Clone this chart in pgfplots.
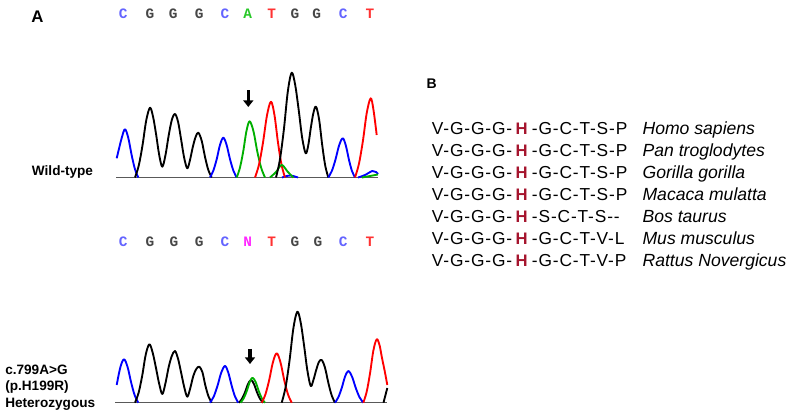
\documentclass[border=0pt]{standalone}
\usepackage{fontspec}
\setmainfont{Liberation Sans}
\newfontfamily\seqfont{Liberation Mono}
\newfontfamily\seqB{Liberation Sans}[LetterSpace=5]
\usepackage{pgfplots}
\pgfplotsset{compat=1.18}
\usetikzlibrary{arrows.meta}
\definecolor{tblue}{RGB}{0,0,255}
\definecolor{tgreen}{RGB}{0,175,0}
\definecolor{tred}{RGB}{255,0,0}
\definecolor{hred}{RGB}{165,20,45}
\definecolor{lc}{RGB}{100,100,255}
\definecolor{lg}{RGB}{70,70,70}
\definecolor{la}{RGB}{40,200,40}
\definecolor{lt}{RGB}{255,50,50}
\definecolor{ln}{RGB}{255,40,255}
\begin{document}
\begin{tikzpicture}
\begin{axis}[width=600pt,height=315pt,scale only axis,
  xmin=0,xmax=800,ymin=0,ymax=420,y dir=reverse,hide axis,clip=false,
  every axis plot/.append style={line width=1.4pt,no marks,line join=round}]
\path (axis cs:0,0) (axis cs:800,420);
% baselines
\addplot[black!65,line width=0.8pt,sharp plot] coordinates {(116,177.5)(378,177.5)};
\addplot[black!65,line width=0.8pt,sharp plot] coordinates {(115,402.7)(387,402.7)};
% ---------- wild-type trace ----------
\addplot[tblue,smooth,tension=0.55] coordinates {(282,177.5)(290,175.5)(298,177.5)};
\addplot[tblue,smooth,tension=0.55] coordinates {(358,177.5)(365,175)(372.3,171)(376,172)(378,174)};
\addplot[tgreen,smooth,tension=0.55] coordinates {(362,177.5)(370,176)(378,174.5)};
\addplot[tblue,smooth,tension=0.55] coordinates {(116.7,158.3)(121.7,138)(125,129.3)(128.3,138)(131.7,155.3)(135,169.3)(138.3,177.5)};
\addplot[black,smooth,tension=0.55] coordinates {(135,177.5)(138.75,165.6)(142.5,145.4)(146.25,120.3)(150,107.7)(153.1,117)(156.2,135)(159.2,155)(162.3,166.7)(165.5,155)(168.6,136)(171.8,120)(175,114)(178.1,122)(181.2,140)(184.2,158)(187.3,168.3)(190,160)(192.8,147)(195.6,137)(198.3,132.7)(201.7,140.8)(205,156.9)(208.3,169.9)(211.7,177.5)};
\addplot[tblue,smooth,tension=0.55] coordinates {(210,177.5)(213.3,170.7)(216.7,159.2)(220,144.9)(223.3,137.7)(226.6,144.9)(230,159.2)(233.4,170.7)(236.7,177.5)};
\addplot[tgreen,smooth,tension=0.55] coordinates {(236.7,177.5)(239.9,167.9)(243.2,151.6)(246.4,131.4)(249.6,121.3)(253.5,131.4)(257.3,151.6)(261.2,167.9)(265,177.5)};
\addplot[tred,smooth,tension=0.55] coordinates {(255,177.5)(259,164.6)(263,142.6)(267,115.3)(271,101.7)(274.5,115.3)(278,142.6)(281.5,164.6)(285,177.5)};
\addplot[tgreen,smooth,tension=0.55] coordinates {(270,177.5)(276,172)(281.7,165)(287.5,171.5)(293.3,177.5)};
\addplot[black,smooth,tension=0.55] coordinates {(276,177.5)(279.9,159.7)(283.9,129.3)(287.8,91.6)(291.7,72.7)(295.2,85)(298.7,110)(302.2,138)(305.7,153.3)(308.3,145)(310.8,128)(313.4,113)(316,106.7)(319.1,119.4)(322.2,144.9)(325.2,165.5)(328.3,177.5)};
\addplot[tblue,smooth,tension=0.55] coordinates {(328.3,177.5)(331.9,170.8)(335.5,159.5)(339.1,145.4)(342.7,138.3)(345.8,145.4)(348.9,159.5)(351.9,170.8)(355,177.5)};
\addplot[tred,smooth,tension=0.55] coordinates {(355,177.5)(358.9,164)(362.9,141)(366.8,112.6)(370.7,98.3)(373.5,110)(376.7,135)};
% ---------- heterozygous trace ----------
\addplot[tblue,smooth,tension=0.55] coordinates {(116.7,385)(120.4,367.1)(124,359.3)(127.6,367.1)(131.2,382.7)(134.7,395.3)(138.3,402.7)};
\addplot[black,smooth,tension=0.55] coordinates {(135,402.7)(138.6,392.8)(142.2,375.8)(145.7,354.8)(149.3,344.3)(152.5,352)(155.8,367)(159,383)(162.3,394)(165.5,383)(168.7,367)(171.8,356)(175,351)(178.1,359)(181.2,373)(184.2,387)(187.3,396.7)(190.3,388)(193.3,376)(196.3,369)(199.3,366.7)(202.4,372.2)(205.5,386.1)(208.6,396.6)(211.7,402.7)};
\addplot[tblue,smooth,tension=0.55] coordinates {(210,402.7)(213.75,396.5)(217.5,385.8)(221.25,372.6)(225,366)(228.3,372.6)(231.7,385.8)(235,396.5)(238.3,402.7)};
\addplot[black,smooth,tension=0.55] coordinates {(239,402.7)(242,398.8)(245,392.3)(248,384.1)(251,380)(254,384.1)(257,392.3)(260,398.8)(263,402.7)};
\addplot[tgreen,smooth,tension=0.55] coordinates {(240.5,402.7)(243.6,398.5)(246.7,391.2)(249.7,382.2)(252.5,377.7)(255.7,382.2)(258.8,391.2)(261.9,398.5)(265,402.7)};
\addplot[tred,smooth,tension=0.55] coordinates {(261.7,402.7)(265.45,394.3)(269.2,380)(272.95,362.2)(276.7,353.3)(280.45,362.2)(284.2,380)(287.95,394.3)(291.7,402.7)};
\addplot[black,smooth,tension=0.55] coordinates {(281.7,402.7)(285.6,387.2)(289.5,360.8)(293.4,328.1)(297.3,311.7)(300.6,322)(304,345)(307.3,370)(310.7,386)(313.4,380)(316.2,370)(318.9,362)(321.7,360)(325,367.7)(328.4,383.1)(331.7,395.4)(335,402.7)};
\addplot[tblue,smooth,tension=0.55] coordinates {(335,402.7)(338.3,397.3)(341.7,388.1)(345,376.7)(348.3,371)(352.05,376.7)(355.8,388.1)(359.55,397.3)(363.3,402.7)};
\addplot[tred,smooth,tension=0.55] coordinates {(363.3,402.7)(366.65,391.9)(370,373.5)(373.35,350.7)(376.7,339.3)(379.5,345)(382,358)(384.7,371)(387.3,385)};
\addplot[black,sharp plot] coordinates {(383.5,402.7)(387.3,388)};
% arrows
\draw[line width=2.6pt,-{Triangle[width=7.5pt,length=5pt]}] (axis cs:248.3,90.5) -- (axis cs:248.3,107);
\draw[line width=2.6pt,-{Triangle[width=7.5pt,length=5pt]}] (axis cs:250,349) -- (axis cs:250,364);
% base calls
\tikzset{bc/.style={font=\seqfont\bfseries\fontsize{10.8}{11}\selectfont,inner sep=0pt}}
\node[bc,lc] at (axis cs:123.3,13.7) {C};
\node[bc,lg] at (axis cs:150,13.7) {G};
\node[bc,lg] at (axis cs:173.3,13.7) {G};
\node[bc,lg] at (axis cs:199.3,13.7) {G};
\node[bc,lc] at (axis cs:225,13.7) {C};
\node[bc,la] at (axis cs:247.7,13.7) {A};
\node[bc,lt] at (axis cs:271.7,13.7) {T};
\node[bc,lg] at (axis cs:295,13.7) {G};
\node[bc,lg] at (axis cs:316.7,13.7) {G};
\node[bc,lc] at (axis cs:343.3,13.7) {C};
\node[bc,lt] at (axis cs:370,13.7) {T};
\node[bc,lc] at (axis cs:123.3,241.3) {C};
\node[bc,lg] at (axis cs:150,241.3) {G};
\node[bc,lg] at (axis cs:174,241.3) {G};
\node[bc,lg] at (axis cs:199.3,241.3) {G};
\node[bc,lc] at (axis cs:225,241.3) {C};
\node[bc,ln] at (axis cs:247.7,241.3) {N};
\node[bc,lt] at (axis cs:271.7,241.3) {T};
\node[bc,lg] at (axis cs:295,241.3) {G};
\node[bc,lg] at (axis cs:318,241.3) {G};
\node[bc,lc] at (axis cs:343.3,241.3) {C};
\node[bc,lt] at (axis cs:370,241.3) {T};
% panel labels
\node[font=\bfseries\fontsize{12.6}{14}\selectfont,inner sep=0pt] at (axis cs:37.5,16.3) {A};
\node[font=\bfseries\fontsize{10.5}{12}\selectfont,inner sep=0pt] at (axis cs:431.7,83.3) {B};
\tikzset{lab/.style={font=\bfseries\fontsize{10.2}{12}\selectfont,inner sep=0pt,anchor=base west}}
\node[lab] at (axis cs:31.7,176) {Wild-type};
\node[lab] at (axis cs:5,374) {c.799A>G};
\node[lab] at (axis cs:5,390.5) {(p.H199R)};
\node[lab] at (axis cs:5,407) {Heterozygous};
% alignment
\tikzset{sq/.style={font=\seqB\fontsize{13}{15}\selectfont,inner sep=0pt,anchor=base west},
  hh/.style={font=\bfseries\fontsize{12.5}{15}\selectfont,inner sep=0pt,anchor=base,text=hred},
  sp/.style={font=\itshape\fontsize{13.2}{15}\selectfont,inner sep=0pt,anchor=base west}}
\node[sq] at (axis cs:431.7,135) {V-G-G-G-};
\node[hh] at (axis cs:521.7,135) {H};
\node[sq] at (axis cs:531.7,135) {-G-C-T-S-P};
\node[sp] at (axis cs:642.3,135) {Homo sapiens};
\node[sq] at (axis cs:431.7,156.9) {V-G-G-G-};
\node[hh] at (axis cs:521.7,156.9) {H};
\node[sq] at (axis cs:531.7,156.9) {-G-C-T-S-P};
\node[sp] at (axis cs:642.3,156.9) {Pan troglodytes};
\node[sq] at (axis cs:431.7,178.8) {V-G-G-G-};
\node[hh] at (axis cs:521.7,178.8) {H};
\node[sq] at (axis cs:531.7,178.8) {-G-C-T-S-P};
\node[sp] at (axis cs:642.3,178.8) {Gorilla gorilla};
\node[sq] at (axis cs:431.7,200.7) {V-G-G-G-};
\node[hh] at (axis cs:521.7,200.7) {H};
\node[sq] at (axis cs:531.7,200.7) {-G-C-T-S-P};
\node[sp] at (axis cs:642.3,200.7) {Macaca mulatta};
\node[sq] at (axis cs:431.7,222.6) {V-G-G-G-};
\node[hh] at (axis cs:521.7,222.6) {H};
\node[sq] at (axis cs:531.7,222.6) {-S-C-T-S-{}-};
\node[sp] at (axis cs:642.3,222.6) {Bos taurus};
\node[sq] at (axis cs:431.7,244.5) {V-G-G-G-};
\node[hh] at (axis cs:521.7,244.5) {H};
\node[sq] at (axis cs:531.7,244.5) {-G-C-T-V-L};
\node[sp] at (axis cs:642.3,244.5) {Mus musculus};
\node[sq] at (axis cs:431.7,266.4) {V-G-G-G-};
\node[hh] at (axis cs:521.7,266.4) {H};
\node[sq] at (axis cs:531.7,266.4) {-G-C-T-V-P};
\node[sp] at (axis cs:642.3,266.4) {Rattus Novergicus};
\end{axis}
\end{tikzpicture}
\end{document}
